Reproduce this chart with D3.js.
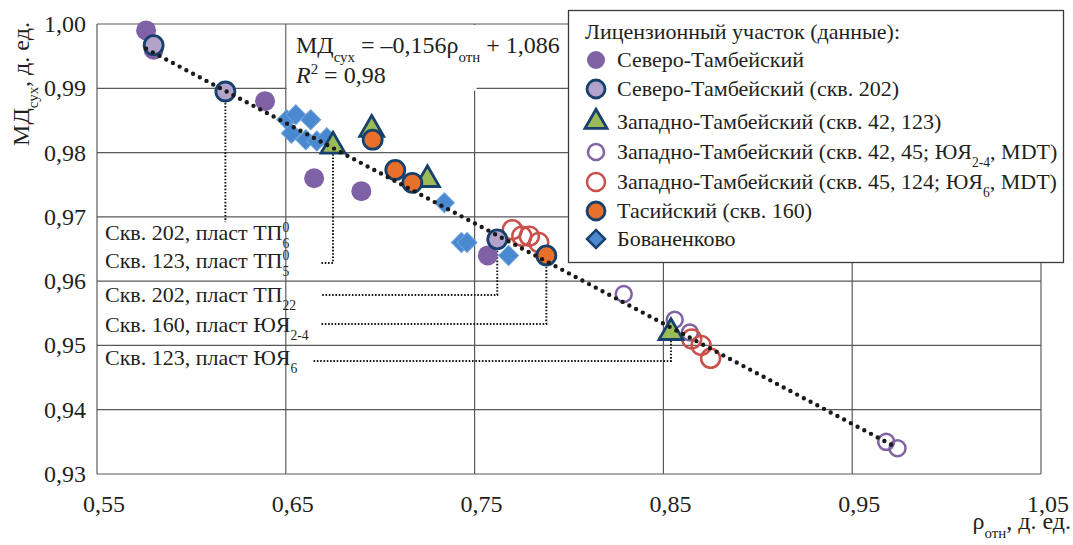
<!DOCTYPE html>
<html>
<head>
<meta charset="UTF-8">
<title>MD vs rho</title>
<script src="https://cdnjs.cloudflare.com/ajax/libs/d3/7.8.5/d3.min.js"></script>
<style>
  * { margin: 0; padding: 0; box-sizing: border-box; }
  body { background: #fff; }
</style>
</head>
<body>
<svg id="chart" width="1073" height="545"></svg>
<script>
// axis ticks
const xTicks = [0.55, 0.65, 0.75, 0.85, 0.95, 1.05];
const yTicks = [0.93, 0.94, 0.95, 0.96, 0.97, 0.98, 0.99, 1.00];

// data: [ρ отн, МД сух]
const severoTamb = [[0.576, 0.999], [0.580, 0.996], [0.639, 0.988], [0.665, 0.976], [0.690, 0.974], [0.757, 0.964]];
const severoTamb202 = [[0.580, 0.9967], [0.618, 0.9895], [0.762, 0.9665]];
const zapadTamb42_123 = [[0.675, 0.981], [0.6955, 0.9836], [0.725, 0.9758], [0.854, 0.952]];
const zapadTambUY24 = [[0.829, 0.958], [0.856, 0.954], [0.864, 0.952], [0.968, 0.935], [0.974, 0.934]];
const zapadTambUY6 = [[0.770, 0.968], [0.775, 0.967], [0.779, 0.967], [0.784, 0.966], [0.865, 0.951], [0.870, 0.950], [0.875, 0.948]];
const tasiy160 = [[0.696, 0.982], [0.708, 0.9773], [0.717, 0.9753], [0.788, 0.964]];
const bovanenkovo = [[0.6505, 0.9851], [0.6553, 0.9859], [0.6632, 0.9851], [0.653, 0.983], [0.6606, 0.982],
                     [0.6664, 0.9818], [0.6717, 0.9823], [0.734, 0.9722], [0.743, 0.966], [0.746, 0.966], [0.768, 0.964]];

// trend: МД = a*ρ + b
const trendSlope = -0.156;
const trendIntercept = 1.086;
const trendRange = [0.576, 0.974];

const fmt = d => d.toFixed(2).replace('.', ',');
const INK = '#231f20';

const svg = d3.select('#chart');
const plot = {left: 97, right: 1041, top: 24, bottom: 474};

const x = d3.scaleLinear().domain([0.55, 1.05]).range([plot.left, plot.right]);
const y = d3.scaleLinear().domain([0.93, 1.00]).range([plot.bottom, plot.top]);

function txt(g) {
    return g.append('text').style('font-family', '"Liberation Serif"').style('fill', INK);
}

// one text element, sub/superscripts as shifted tspans
function rich(g, x0, y0, segs, size, anchor) {
    const t = txt(g).attr('x', x0).attr('y', y0)
        .attr('text-anchor', anchor || 'start').style('font-size', size + 'px');
    let shift = 0, prev = '';
    segs.forEach(([s, kind]) => {
        const small = size * 0.62;
        let target = 0;
        if (kind === 'sup') target = -size * 0.36;
        if (kind === 'sub' || kind === 'stack') target = size * 0.36;
        const ts = t.append('tspan').attr('dy', target - shift).text(s);
        if (kind && kind !== 'i') ts.style('font-size', small + 'px');
        if (kind === 'i') ts.style('font-style', 'italic');
        if (kind === 'stack') ts.attr('dx', -small * 0.5 * prev.length);
        shift = target;
        prev = s;
    });
    return t;
}

// grid
const grid = svg.append('g').attr('stroke', '#5a5a5a').attr('stroke-width', 1.2);
grid.selectAll('.gx').data(xTicks).enter().append('line')
    .attr('x1', d => x(d)).attr('x2', d => x(d))
    .attr('y1', plot.top).attr('y2', plot.bottom);
grid.selectAll('.gy').data(yTicks).enter().append('line')
    .attr('x1', plot.left).attr('x2', plot.right)
    .attr('y1', d => y(d)).attr('y2', d => y(d));

// equation background
svg.append('rect').attr('x', x(0.65) + 1).attr('y', plot.top + 1)
    .attr('width', x(0.75) - x(0.65) + 1).attr('height', y(0.99) - plot.top + 1.5)
    .attr('fill', '#fff');

// tick labels
yTicks.forEach(d => {
    txt(svg).attr('x', 86).attr('y', y(d) + 8)
        .attr('text-anchor', 'end').style('font-size', '24px')
        .text(fmt(d));
});
xTicks.forEach(d => {
    txt(svg).attr('x', x(d) + 7).attr('y', 512)
        .attr('text-anchor', 'middle').style('font-size', '24px')
        .text(fmt(d));
});

// axis titles
rich(svg.append('g').attr('transform', 'translate(29,84) rotate(-90)'), 0, 0,
    [['МД', ''], ['сух', 'sub'], [', д. ед.', '']], 24, 'middle');
rich(svg, 1071, 529, [['ρ', ''], ['отн', 'sub'], [', д. ед.', '']], 24, 'end');

// equation
rich(svg, 296, 53, [['МД', ''], ['сух', 'sub'], [' = –0,156ρ', ''], ['отн', 'sub'], [' + 1,086', '']], 24);
rich(svg, 296, 83, [['R', 'i'], ['2', 'sup'], [' = 0,98', '']], 24);

// annotations (leader ends in px)
const annotations = [
    {segs: [['Скв. 202, пласт ТП', ''], ['0', 'sup'], ['6', 'stack']], pt: severoTamb202[1], base: 240, lead: null, stop: 222},
    {segs: [['Скв. 123, пласт ТП', ''], ['0', 'sup'], ['5', 'stack']], pt: zapadTamb42_123[0], base: 268, lead: 263, from: 320},
    {segs: [['Скв. 202, пласт ТП', ''], ['22', 'sub']], pt: severoTamb202[2], base: 302, lead: 295, from: 321},
    {segs: [['Скв. 160, пласт ЮЯ', ''], ['2-4', 'sub']], pt: tasiy160[3], base: 332, lead: 324, from: 320},
    {segs: [['Скв. 123, пласт ЮЯ', ''], ['6', 'sub']], pt: zapadTamb42_123[3], base: 365, lead: 361, from: 312}
];

const leaders = svg.append('g').attr('fill', 'none').attr('stroke', '#1a1a1a')
    .attr('stroke-width', 2).attr('stroke-dasharray', '1.6 1.7');
const labels = svg.append('g');

annotations.forEach(a => {
    rich(labels, 105, a.base, a.segs, 22);
    const px = x(a.pt[0]), py = y(a.pt[1]);
    if (a.lead === null) {
        leaders.append('path').attr('d', `M${px},${py + 8}V${a.stop}`);
    } else {
        leaders.append('path').attr('d', `M${px},${py + 8}V${a.lead}H${a.from}`);
    }
});

// series styles
const navy = '#17406d';
const series = [
    {data: bovanenkovo, shape: 'diamond', fill: '#4a89cf', stroke: '#6aa2dc', sw: 1, r: 10},
    {data: severoTamb, shape: 'circle', fill: '#7f62a6', stroke: 'none', sw: 0, r: 10},
    {data: zapadTambUY24, shape: 'circle', fill: 'none', stroke: '#8064a2', sw: 2.5, r: 8},
    {data: zapadTambUY6, shape: 'circle', fill: 'none', stroke: '#c9504b', sw: 2.5, r: 9.5},
    {data: severoTamb202, shape: 'circle', fill: '#b3a3cb', stroke: navy, sw: 2.8, r: 9.5},
    {data: zapadTamb42_123, shape: 'triangle', fill: '#9bbb59', stroke: navy, sw: 2.8, r: 12},
    {data: tasiy160, shape: 'circle', fill: '#e8702a', stroke: navy, sw: 2.8, r: 9.5}
];

function drawMarker(g, shape, r) {
    if (shape === 'circle') return g.append('circle').attr('r', r);
    if (shape === 'diamond') return g.append('path')
        .attr('d', d3.symbol(d3.symbolSquare, 2 * r * r)()).attr('transform', 'rotate(45)');
    return g.append('path').attr('d', d3.symbol(d3.symbolTriangle, Math.sqrt(3) * r * r)());
}

const marks = svg.append('g');
series.forEach(s => {
    s.data.forEach(d => {
        const g = marks.append('g').attr('transform', `translate(${x(d[0])},${y(d[1])})`);
        drawMarker(g, s.shape, s.r)
            .attr('fill', s.fill).attr('stroke', s.stroke).attr('stroke-width', s.sw);
    });
});

// trend line
const trend = trendRange.map(v => [v, trendSlope * v + trendIntercept]);
svg.append('path')
    .attr('d', d3.line().x(d => x(d[0])).y(d => y(d[1]))(trend))
    .attr('fill', 'none').attr('stroke', '#1a1a1a')
    .attr('stroke-width', 4.4).attr('stroke-linecap', 'round')
    .attr('stroke-dasharray', '0 7.6');

// legend
const legendItems = [
    {segs: [['Северо-Тамбейский', '']], style: series[1]},
    {segs: [['Северо-Тамбейский (скв. 202)', '']], style: series[4]},
    {segs: [['Западно-Тамбейский (скв. 42, 123)', '']], style: series[5]},
    {segs: [['Западно-Тамбейский (скв. 42, 45; ЮЯ', ''], ['2-4', 'sub'], [', MDT)', '']], style: series[2]},
    {segs: [['Западно-Тамбейский (скв. 45, 124; ЮЯ', ''], ['6', 'sub'], [', MDT)', '']], style: series[3]},
    {segs: [['Тасийский (скв. 160)', '']], style: series[6]},
    {segs: [['Бованенково', '']], style: Object.assign({}, series[0], {stroke: navy, sw: 2.5, r: 9})}
];

const legend = svg.append('g');
legend.append('rect')
    .attr('x', 568.5).attr('y', 10.5).attr('width', 495).attr('height', 252)
    .attr('fill', '#fff').attr('stroke', '#3a3a3a').attr('stroke-width', 1.3);
rich(legend, 585, 39, [['Лицензионный участок (данные):', '']], 22);

const legendRows = [60, 89, 122, 152, 182, 211, 239];
legendItems.forEach((it, i) => {
    const cy = legendRows[i];
    const g = legend.append('g').attr('transform', `translate(596,${cy})`);
    const s = it.style;
    drawMarker(g, s.shape, Math.min(s.r, s.shape === 'triangle' ? 11 : 9))
        .attr('fill', s.fill).attr('stroke', s.stroke).attr('stroke-width', s.sw);
    rich(legend, 617, cy + 7, it.segs, 22);
});
</script>
</body>
</html>
